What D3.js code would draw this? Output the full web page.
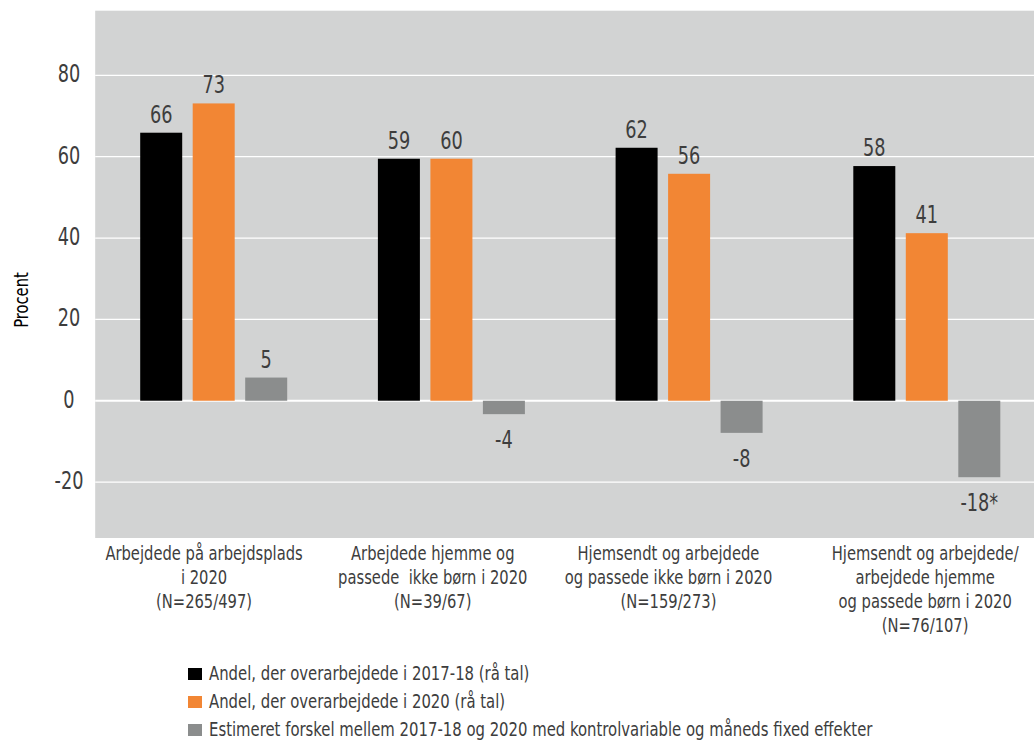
<!DOCTYPE html>
<html>
<head>
<meta charset="utf-8">
<script src="https://cdn.jsdelivr.net/npm/d3@7"></script>
<style>
  html, body { margin: 0; padding: 0; background: #ffffff; }
  svg text { font-family: "DejaVu Sans Condensed", "DejaVu Sans", sans-serif; font-stretch: condensed; fill: #3d3d3d; }
</style>
</head>
<body>
<svg id="chart" width="1034" height="742"></svg>
<script>
// ---- data ----
const categories = [
  ["Arbejdede på arbejdsplads", "i 2020", "(N=265/497)"],
  ["Arbejdede hjemme og", "passede  ikke børn i 2020", "(N=39/67)"],
  ["Hjemsendt og arbejdede", "og passede ikke børn i 2020", "(N=159/273)"],
  ["Hjemsendt og arbejdede/", "arbejdede hjemme", "og passede børn i 2020", "(N=76/107)"]
];
const seriesNames = [
  "Andel, der overarbejdede i 2017-18 (rå tal)",
  "Andel, der overarbejdede i 2020 (rå tal)",
  "Estimeret forskel mellem 2017-18 og 2020 med kontrolvariable og måneds fixed effekter"
];
const values2017 = [65.9, 59.5, 62.2, 57.7];
const values2020 = [73.1, 59.5, 55.8, 41.2];
const valuesDiff = [5.7, -3.3, -7.9, -18.8];
const labels2017 = ["66", "59", "62", "58"];
const labels2020 = ["73", "60", "56", "41"];
const labelsDiff = ["5", "-4", "-8", "-18*"];
const yTicks = [-20, 0, 20, 40, 60, 80];
const yDomain = [-33.75, 95.9];

// ---- layout ----
const colors = ["#000000", "#f28634", "#8b8d8d"];
const plot = { left: 95.2, right: 1046, top: 10.7, bottom: 538 };
const catLabelShift = [-10, -19, -21, -2];
const squeeze = 0.84;

const svg = d3.select("#chart");

// text helper: horizontally condensed text placed at (x, y)
function ctext(parent, x, y, size, anchor, sx) {
  return parent.append("text")
    .attr("transform", `translate(${x},${y}) scale(${sx || squeeze},1)`)
    .attr("x", 0).attr("y", 0)
    .attr("font-size", size)
    .attr("text-anchor", anchor || "start");
}

const y = d3.scaleLinear().domain(yDomain).range([plot.bottom, plot.top]);
const x0 = d3.scaleBand().domain(d3.range(categories.length)).range([plot.left, plot.right]).padding(0);
const x1 = d3.scaleBand().domain([0, 1, 2]).range([45, 192]).paddingInner(0.2).paddingOuter(0);

// background
svg.append("rect")
  .attr("x", plot.left).attr("y", plot.top)
  .attr("width", 1034 - plot.left).attr("height", plot.bottom - plot.top)
  .attr("fill", "#d2d3d3");

// gridlines
svg.append("g").selectAll("line").data(yTicks).join("line")
  .attr("x1", plot.left).attr("x2", 1034)
  .attr("y1", d => y(d)).attr("y2", d => y(d))
  .attr("stroke", "#ffffff").attr("stroke-width", d => d === 0 ? 2 : 1.3);

// y tick labels
const yg = svg.append("g");
yTicks.forEach(d => {
  ctext(yg, 69, y(d) + 6.8, 24, "middle", 0.82).text(d);
});

// y axis title
svg.append("text")
  .attr("transform", "translate(28,300) rotate(-90) scale(0.82,1)")
  .attr("text-anchor", "middle")
  .attr("font-size", 20)
  .style("fill", "#000")
  .text("Procent");

const series = [
  { vals: values2017, labels: labels2017 },
  { vals: values2020, labels: labels2020 },
  { vals: valuesDiff, labels: labelsDiff }
];

series.forEach((s, si) => {
  const g = svg.append("g");
  g.selectAll("rect").data(s.vals).join("rect")
    .attr("x", (d, i) => x0(i) + x1(si))
    .attr("width", x1.bandwidth())
    .attr("y", d => Math.min(y(d), y(0)))
    .attr("height", d => Math.abs(y(d) - y(0)))
    .attr("fill", colors[si]);
  s.vals.forEach((d, i) => {
    const lx = x0(i) + x1(si) + x1.bandwidth() / 2;
    const ly = d >= 0 ? y(d) - 10 : y(d) + 34;
    ctext(g, lx, ly, 24, "middle", 0.82).text(s.labels[i]);
  });
});

// category labels
categories.forEach((lines, i) => {
  const cx = x0(i) + x0.bandwidth() / 2 + catLabelShift[i];
  const t = ctext(svg, cx, 560, 19.5, "middle")
    .attr("xml:space", "preserve")
    .style("white-space", "pre");
  lines.forEach((ln, li) => {
    t.append("tspan").attr("x", 0).attr("y", li * 24).text(ln);
  });
});

// legend
const lg = svg.append("g");
seriesNames.forEach((name, i) => {
  const yy = 668 + i * 28;
  lg.append("rect").attr("x", 188).attr("y", yy).attr("width", 14).attr("height", 12).attr("fill", colors[i]);
  ctext(lg, 209, yy + 12, 19.5, "start", 0.848).text(name);
});
</script>
</body>
</html>
